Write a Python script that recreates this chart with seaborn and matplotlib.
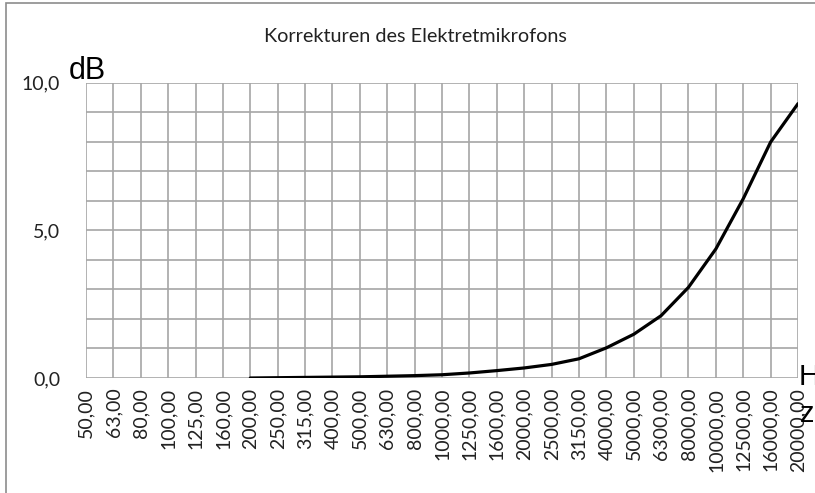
import numpy as np
import pandas as pd
import matplotlib
matplotlib.use("Agg")
import matplotlib.pyplot as plt
from matplotlib.patches import Rectangle
import seaborn as sns

# Third-octave centre frequencies (Hz)
freqs = [50, 63, 80, 100, 125, 160, 200, 250, 315, 400, 500, 630, 800,
         1000, 1250, 1600, 2000, 2500, 3150, 4000, 5000, 6300, 8000,
         10000, 12500, 16000, 20000]
# Correction in dB (no values below 200 Hz)
correction = [np.nan, np.nan, np.nan, np.nan, np.nan, np.nan,
              0.00, 0.01, 0.02, 0.03, 0.04, 0.06, 0.08,
              0.11, 0.17, 0.25, 0.34, 0.46, 0.65, 1.02, 1.48, 2.11, 3.07,
              4.37, 6.07, 7.99, 9.29]
y_ticks = [0.0, 5.0, 10.0]

sns.set_theme(style="white")
plt.rcParams["font.family"] = ["Lato", "DejaVu Sans"]

freq_labels = [f"{f:.2f}".replace(".", ",") for f in freqs]
df = pd.DataFrame({"pos": np.arange(len(freqs)), "dB": correction}).dropna()

fig = plt.figure(figsize=(8.15, 4.93), dpi=100)
fig.patch.set_facecolor("white")
# chart frame
fig.patches.append(Rectangle((6 / 815, -0.1), 1.2, 1 - 3 / 493 + 0.1,
                             transform=fig.transFigure, fill=False,
                             edgecolor="#8c8c8c", linewidth=1.2))

ax = fig.add_axes([86 / 815, 1 - 378 / 493, (798 - 86) / 815, (378 - 82.7) / 493])
ax.set_facecolor("white")

sns.lineplot(data=df, x="pos", y="dB", ax=ax, color="black", linewidth=2.3,
             zorder=3)

ax.set_xlim(0, len(freqs) - 1)
ax.set_ylim(0, 10)
ax.set_xticks(np.arange(len(freqs)))
ax.set_xticklabels(freq_labels, rotation=90, fontsize=14, color="#222222")
ax.set_yticks(np.arange(0, 11, 1), minor=True)
ax.set_yticks(y_ticks)
ax.set_yticklabels([f"{v:.1f}".replace(".", ",") for v in y_ticks],
                   fontsize=14, color="#222222")
ax.tick_params(axis="both", which="both", length=0)
ax.tick_params(axis="x", pad=7)
ax.tick_params(axis="y", pad=18.5)

ax.grid(True, which="both", axis="y", color="#a6a6a6", linewidth=1.2)
ax.grid(True, which="major", axis="x", color="#a6a6a6", linewidth=1.2)
for s in ax.spines.values():
    s.set_visible(False)
ax.set_xlabel("")
ax.set_ylabel("")

fig.text(415 / 815, 1 - 36 / 493, "Korrekturen des Elektretmikrofons",
         ha="center", va="center", fontsize=14.3, color="#222222")
fig.text(69 / 815, 1 - 79 / 493, "dB", ha="left", va="baseline",
         fontsize=22, family=["Liberation Sans", "DejaVu Sans"], color="black")
fig.text(799 / 815, 1 - 385 / 493, "H", ha="left", va="baseline",
         fontsize=21, family=["Liberation Sans", "DejaVu Sans"], color="black")
fig.text(800 / 815, 1 - 422 / 493, "z", ha="left", va="baseline",
         fontsize=21, family=["Liberation Sans", "DejaVu Sans"], color="black")

fig.savefig("out.png", dpi=100, facecolor="white")
